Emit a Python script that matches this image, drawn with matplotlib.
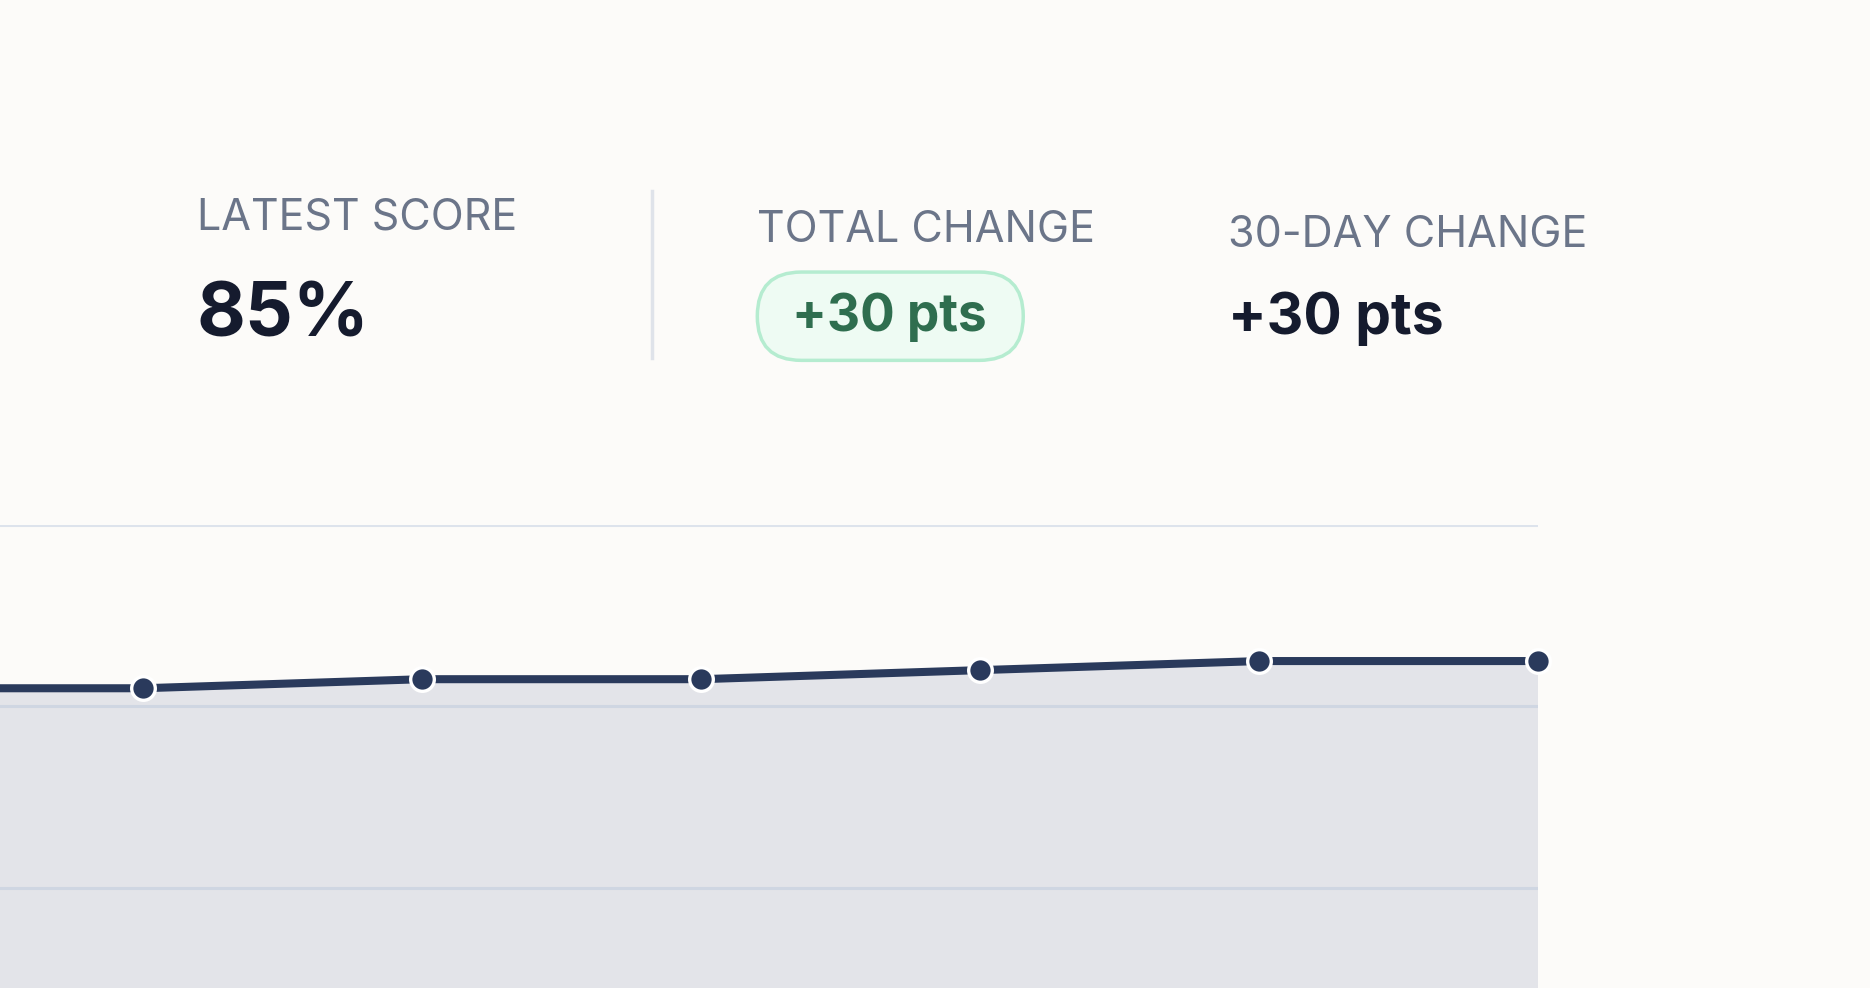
import matplotlib
matplotlib.use("Agg")
import matplotlib.pyplot as plt
from matplotlib.patches import FancyBboxPatch

scores = [55, 62, 68, 73, 77, 80, 82, 82, 83, 83, 84, 85, 85]
latest_label = "85%"
total_change = "+30 pts"
day30_change = "+30 pts"
grid_vals = [60, 80, 100]

W, H = 1568, 828
fx = lambda x: x / W
fy = lambda y: 1 - y / H

bg = "#fcfbf9"
fig = plt.figure(figsize=(18.7, 9.88), dpi=100, facecolor=bg)
plt.rcParams['font.family'] = ['Inter', 'DejaVu Sans']

n = len(scores)
x = list(range(n))
unit = 7.6 / H
bottom = fy(440) - 60 * unit
ax = fig.add_axes([0, bottom, fx(1290), 60 * unit])
ax.set_xlim(n - 1 - 1290 / 234, n - 1)
ax.set_ylim(40, 100)
ax.set_facecolor(bg)
for s in ax.spines.values():
    s.set_visible(False)
ax.set_xticks([]); ax.set_yticks([])
for g in grid_vals:
    ax.axhline(g, color="#dde3ec", lw=2.2, zorder=1)
ax.fill_between(x, scores, 40, color="#e3e4e9", zorder=2)
for g in grid_vals[:-1]:
    ax.axhline(g, color="#cfd6e2", lw=2.2, zorder=3)
ax.plot(x, scores, color="#2a3a5c", lw=5.8, zorder=4, clip_on=False,
        marker="o", ms=17, mfc="#2a3a5c", mec="white", mew=2.4, solid_capstyle="round")

lab = "#6b7589"
dark = "#151b2e"
fig.text(fx(165), fy(183), "LATEST SCORE", color=lab, fontsize=31, va="center", ha="left")
fig.text(fx(165), fy(266), latest_label, color=dark, fontsize=54, fontweight="bold", va="center", ha="left")
fig.add_artist(plt.Line2D([fx(547), fx(547)], [fy(160), fy(300)], color="#dfe3ea", lw=2.5))
fig.text(fx(635), fy(193), "TOTAL CHANGE", color=lab, fontsize=31, va="center", ha="left")
badge = FancyBboxPatch((fx(635) * 1870, fy(302) * 988), (223 / W) * 1870, (74 / H) * 988,
                       boxstyle="round,pad=0,rounding_size=44", transform=None,
                       facecolor="#eefbf3", edgecolor="#b5ecd0", lw=2.5)
fig.add_artist(badge)
fig.text(fx(746), fy(266), total_change, color="#2f6e4f", fontsize=37, fontweight="bold", va="center", ha="center")
fig.text(fx(1030), fy(197), "30-DAY CHANGE", color=lab, fontsize=31, va="center", ha="left")
fig.text(fx(1030), fy(267), day30_change, color=dark, fontsize=41, fontweight="bold", va="center", ha="left")

fig.savefig("out.png", dpi=100, facecolor=bg)
